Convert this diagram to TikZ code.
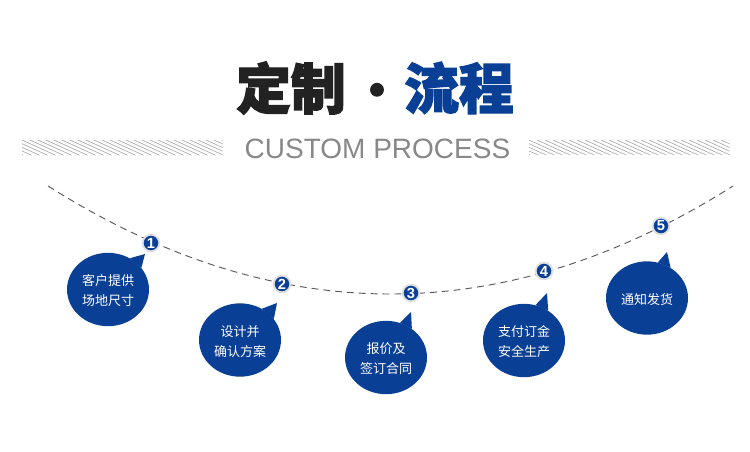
\documentclass[tikz,border=0pt]{standalone}
\usepackage{fontspec}
\setmainfont{Liberation Sans}
\newfontfamily\cjk{Noto Sans CJK SC}
\newfontfamily\cjkheavy[FakeBold=2.5]{Noto Sans CJK SC Black}
\usetikzlibrary{shapes.geometric}
\definecolor{myblue}{HTML}{0A3F96}
\definecolor{myblack}{HTML}{222222}
\definecolor{mygray}{HTML}{888888}
\tikzset{
    titlenode/.style = {inner sep=0pt,font=\cjkheavy\fontsize{41}{41}\selectfont},
    titledot/.style = {inner sep=0pt,anchor=base,text height=1pt,text depth=0pt,text=myblack,
        font=\cjkheavy\fontsize{34}{34}\selectfont},
    subtitle/.style = {inner sep=0pt,text=mygray,font=\fontsize{21}{21}\selectfont},
    hatch/.style = {draw=gray!60,line width=0.55pt},
    bubble/.style = {ellipse,fill=myblue,inner sep=0pt,minimum width=61.5pt,minimum height=55pt},
    bubbletext/.style = {inner sep=0pt,text=white,align=center,font=\cjk\fontsize{9.75}{15}\selectfont},
    number/.style = {circle,fill=myblue,draw=gray!25,line width=1.4pt,inner sep=0pt,minimum size=12.5pt,
        text=white,font=\bfseries\fontsize{11}{11}\selectfont},
    curve/.style = {draw=black!65,line width=0.7pt,dash pattern=on 5.2pt off 3.7pt}
}
\begin{document}
\begin{tikzpicture}[x=0.75pt,y=-0.75pt]
  \useasboundingbox (0,0) rectangle (750,451);

  % heading
  \node[titlenode,text=myblack] (ding) at (291,88) {定制};
  \node[titledot] (dot) at (377,107) {·};
  \node[titlenode,text=myblue] (liu) at (459,88) {流程};
  \node[subtitle] (custom) at (377.5,149) {CUSTOM PROCESS};

  % hatched bands
  \foreach \xa in {22,529} {
    \begin{scope}
      \clip (\xa,140) rectangle ++(200.5,15);
      \foreach \i in {-5,...,26}
        \draw[hatch] (\xa+\i*8,140) -- ++(33,15);
    \end{scope}
  }

  % dashed arc
  \coordinate (arcl) at (48,186);
  \coordinate (arcr) at (733,186);
  \draw[curve] (arcl) .. controls (276,330) and (505,330) .. (arcr);

  % bubbles
  \foreach \name/\x/\y/\tx/\ty/\aa/\ab/\txt in {
      1/108/289.5/145/254/55/33/{客户提供\\场地尺寸},
      2/240/340/277/303/55/32/{设计并\\确认方案},
      3/386/357.5/411/312/68/48/{报价及\\签订合同},
      4/524/340.5/547/293/72/51/{支付订金\\安全生产},
      5/647/298/667/252/73/52/{通知发货}} {
    \node[bubble] (b\name) at (\x,\y) {};
    \coordinate (tip\name) at (\tx,\ty);
    \fill[myblue] (b\name.\aa) -- (tip\name) -- (b\name.\ab) -- cycle;
    \node[bubbletext] (t\name) at (\x,\y+1.5) {\txt};
  }

  % numbers on the arc
  \node[number] (n1) at (151,243) {1};
  \node[number] (n2) at (282,284) {2};
  \node[number] (n3) at (411,293) {3};
  \node[number] (n4) at (544,271) {4};
  \node[number] (n5) at (661,226) {5};
\end{tikzpicture}
\end{document}
